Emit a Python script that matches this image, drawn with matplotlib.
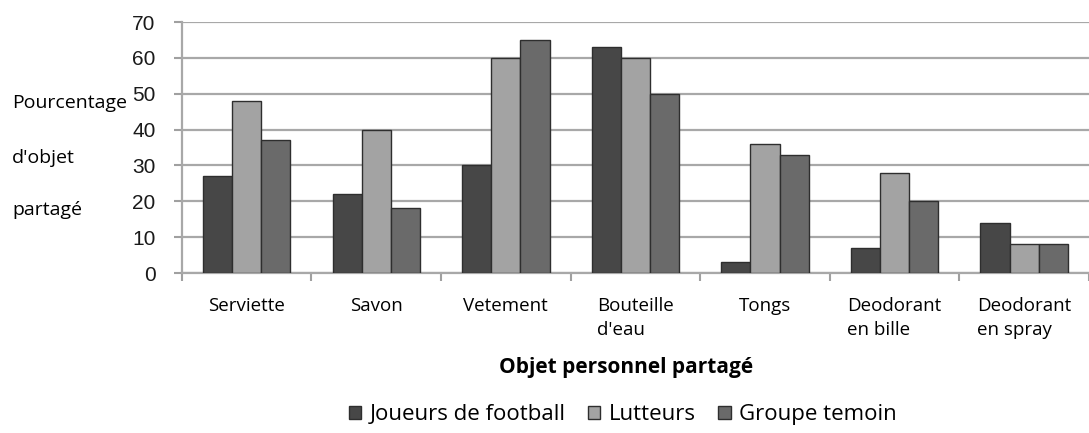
import matplotlib.pyplot as plt
import numpy as np

# objets partagés et pourcentages par groupe
categories = ["Serviette", "Savon", "Vetement", "Bouteille\nd'eau", "Tongs",
              "Deodorant\nen bille", "Deodorant\nen spray"]
football = [27, 22, 30, 63, 3, 7, 14]
lutteurs = [48, 40, 60, 60, 36, 28, 8]
temoin = [37, 18, 65, 50, 33, 20, 8]
series_names = ["Joueurs de football", "Lutteurs", "Groupe temoin"]
yticks = [0, 10, 20, 30, 40, 50, 60, 70]
ylabel_lines = ["Pourcentage", "d'objet", "partagé"]

colors = ["#474747", "#a3a3a3", "#6a6a6a"]

fig = plt.figure(figsize=(10.89, 4.33), dpi=100)
ax = fig.add_axes([0.167, 0.3695, 0.833, 0.5795])

x = np.arange(len(categories))
w = 0.225
for i, (vals, c, name) in enumerate(zip([football, lutteurs, temoin], colors, series_names)):
    ax.bar(x + (i - 1) * w, vals, w, color=c, edgecolor="#2e2e2e", linewidth=1.0,
           label=name, zorder=3)

ax.set_xlim(-0.5, len(categories) - 0.5)
ax.set_ylim(0, 70)
ax.set_yticks(yticks)
ax.set_yticklabels([str(v) for v in yticks], fontsize=15, family="Liberation Sans",
                   color="#1a1a1a")
ax.yaxis.grid(True, color="#a8a8a8", linewidth=1.6, zorder=0)
ax.set_axisbelow(True)

ax.set_xticks(x)
ax.set_xticklabels(categories, fontsize=13.5, family="Open Sans", multialignment="left",
                   linespacing=1.45, va="top")
ax.tick_params(axis="x", length=0, pad=17)
ax.set_xticks(np.arange(len(categories) + 1) - 0.5, minor=True)
ax.tick_params(axis="x", which="minor", length=6, width=1.5, color="#a0a0a0", direction="out")
ax.tick_params(axis="y", length=6, width=1.5, color="#a0a0a0", pad=13)

for s in ["top", "right"]:
    ax.spines[s].set_visible(False)
for s in ["left", "bottom"]:
    ax.spines[s].set_color("#a8a8a8")
    ax.spines[s].set_linewidth(1.6)

for line, yy in zip(ylabel_lines, [0.762, 0.635, 0.515]):
    fig.text(0.011, yy, line, fontsize=14, family="Open Sans", va="center", ha="left")
fig.text(0.575, 0.152, "Objet personnel partagé", fontsize=15, family="Open Sans",
         fontweight="bold", ha="center", va="center")

fig.legend(loc="center", bbox_to_anchor=(0.572, 0.042), ncol=3, frameon=False,
           prop={"family": "Open Sans", "size": 16}, handlelength=0.55, handleheight=0.55,
           handletextpad=0.4, columnspacing=1.0)

fig.savefig("out.png", dpi=100)
